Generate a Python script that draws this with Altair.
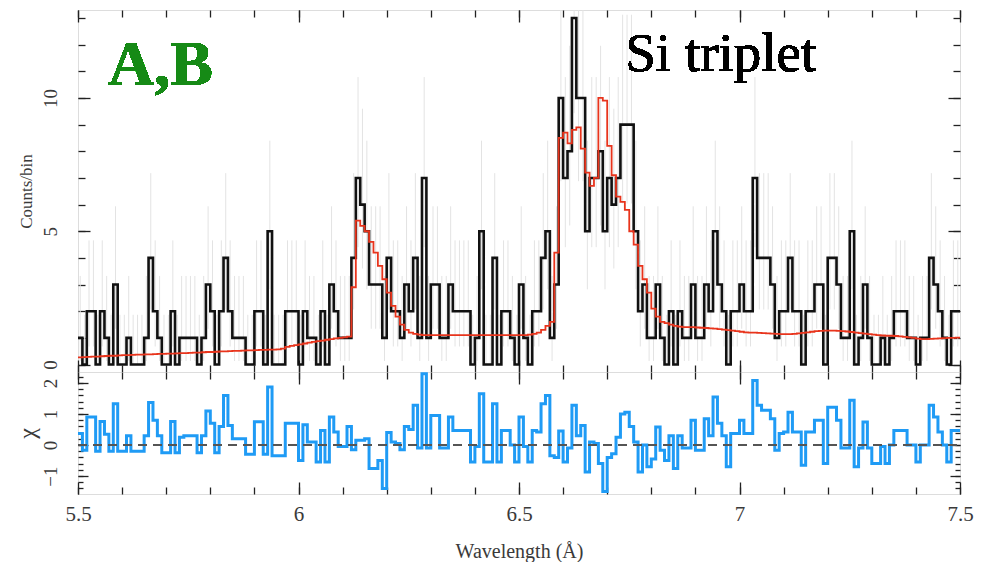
import altair as alt
import numpy as np
import pandas as pd

# ---------------- data ----------------
counts = [1,0,2,2,0,2,1,0,3,0,
          0,1,0,0,0,1,4,2,1,0,
          0,2,0,1,1,1,1,0,1,3,
          2,0,2,4,2,1,1,1,0,0,
          2,2,0,5,0,0,0,2,2,2,
          0,2,1,1,0,2,0,3,2,1,
          1,1,4,7,6,5,3,3,3,1,
          4,2,2,1,3,2,4,1,7,1,
          3,3,1,1,3,2,2,2,2,0,
          1,5,0,0,4,0,2,2,1,0,
          3,1,0,2,2,4,5,1,3,10,
          7,8,13,10,10,5,7,7,8,5,
          7,6,7,9,9,9,5,2,3,1,
          1,3,1,0,2,0,2,1,1,3,
          1,1,3,2,5,3,2,0,2,2,
          3,2,2,7,4,4,4,3,1,2,
          2,4,2,2,0,2,2,3,3,0,
          4,4,3,1,1,5,0,1,3,1,
          0,0,1,0,1,2,2,2,1,1,
          0,1,1,4,3,2,1,0,2,2]

model = [0.27,0.28,0.29,0.30,0.30,0.31,0.32,0.33,0.33,0.34,
         0.35,0.35,0.36,0.37,0.37,0.38,0.38,0.39,0.40,0.40,
         0.41,0.41,0.42,0.43,0.43,0.44,0.45,0.45,0.46,0.47,
         0.47,0.48,0.49,0.49,0.50,0.51,0.51,0.52,0.53,0.53,
         0.54,0.55,0.55,0.56,0.56,0.57,0.60,0.66,0.70,0.73,
         0.76,0.79,0.82,0.85,0.88,0.90,0.93,0.95,0.98,1.00,
         1.02,1.05,2.90,5.40,5.20,5.00,4.60,4.20,3.70,3.20,
         2.70,2.20,1.80,1.50,1.30,1.20,1.15,1.12,1.10,1.10,
         1.10,1.10,1.10,1.10,1.10,1.10,1.10,1.10,1.10,1.10,
         1.10,1.10,1.10,1.10,1.10,1.10,1.10,1.10,1.10,1.10,
         1.10,1.10,1.12,1.15,1.20,1.30,1.45,1.60,4.20,8.50,
         8.70,8.30,8.80,8.90,8.10,7.20,6.70,7.00,10.0,9.90,
         8.20,7.10,6.30,6.10,5.80,5.00,4.50,3.70,3.20,2.70,
         2.10,1.80,1.60,1.55,1.50,1.45,1.42,1.40,1.40,1.40,
         1.39,1.38,1.37,1.36,1.35,1.33,1.31,1.29,1.27,1.25,
         1.23,1.21,1.20,1.20,1.19,1.18,1.17,1.16,1.15,1.14,
         1.14,1.14,1.15,1.17,1.19,1.21,1.23,1.25,1.26,1.27,
         1.27,1.27,1.26,1.25,1.24,1.22,1.20,1.18,1.16,1.14,
         1.12,1.10,1.09,1.08,1.08,1.07,1.06,1.04,1.02,1.00,
         0.97,0.95,0.95,0.96,0.97,0.98,0.99,1.00,1.00,1.01]

chi = [0.37,-0.17,0.9,0.9,-0.2,0.76,0.35,-0.2,1.33,-0.2,
       -0.2,0.3,-0.2,-0.2,-0.2,0.3,1.37,0.8,0.3,-0.25,
       -0.25,0.76,-0.25,0.25,0.3,0.3,0.3,-0.25,0.3,1.1,
       0.7,-0.25,0.6,1.6,0.63,0.2,0.2,0.2,-0.3,-0.3,
       0.75,0.75,-0.3,1.87,-0.35,-0.35,-0.35,0.7,0.7,0.7,
       -0.5,0.65,0.1,0.1,-0.55,0.47,-0.55,0.9,0.42,-0.05,
       -0.05,0.6,-0.15,0.15,0.15,0.2,-0.76,-0.76,-0.5,-1.4,
       0.4,0.1,0.05,-0.15,0.6,0.5,1.28,-0.1,2.3,-0.1,
       0.95,0.95,-0.1,-0.1,0.9,0.47,0.47,0.47,0.47,-0.55,
       -0.05,1.65,-0.55,-0.55,1.33,-0.55,0.47,0.47,0.0,-0.55,
       0.9,-0.05,-0.55,0.47,0.42,1.33,1.6,-0.35,-0.4,0.45,
       -0.55,-0.1,1.28,0.3,0.63,-0.87,0.1,0.05,-0.6,-1.5,
       -0.4,-0.28,0.25,1.0,1.06,0.6,0.1,-0.87,0.0,-0.7,
       -0.45,0.58,-0.17,-0.5,0.3,-0.76,0.3,-0.1,-0.1,0.8,
       -0.17,-0.17,0.85,0.3,1.55,0.7,0.3,-0.7,0.37,0.37,
       0.8,0.37,0.37,2.08,1.28,1.12,1.12,0.85,-0.17,0.37,
       0.42,1.06,0.42,0.42,-0.65,0.42,0.42,0.8,0.8,-0.6,
       1.22,1.22,0.8,-0.1,-0.1,1.44,-0.7,-0.1,0.74,-0.1,
       -0.6,-0.6,-0.05,-0.6,0.0,0.47,0.47,0.47,0.0,0.0,
       -0.55,0.0,0.0,1.28,0.9,0.42,0.0,-0.55,0.47,0.47]

# tick positions / labels
x_minor = [5.5,5.6,5.7,5.8,5.9,6.0,6.1,6.2,6.3,6.4,6.5,6.6,6.7,6.8,6.9,7.0,7.1,7.2,7.3,7.4,7.5]
x_major = [5.5,6.0,6.5,7.0,7.5]
cnt_minor = [0,1,2,3,4,5,6,7,8,9,10,11,12,13]
cnt_major = [0,5,10]
chi_minor = [-1.4,-1.2,-1.0,-0.8,-0.6,-0.4,-0.2,0.0,0.2,0.4,0.6,0.8,1.0,1.2,1.4,1.6,1.8,2.0,2.2]
chi_major = [-1,0,1,2]

# ---------------- tables ----------------
n = len(counts)
edges = np.round(5.5 + 0.01 * np.arange(n + 1), 3)
step_df = pd.DataFrame({
    "wl": edges,
    "counts": counts + [counts[-1]],
    "model": model + [model[-1]],
    "chi": chi + [chi[-1]],
})
err_df = pd.DataFrame({"wl": np.round(edges[:-1] + 0.005, 4), "counts": counts})

# ---------------- styling helpers ----------------
FONT = "Liberation Serif"
TXT = "#3a3a3a"
xs = alt.Scale(domain=[5.5, 7.5], nice=False, zero=False)
ys1 = alt.Scale(domain=[-0.28, 13.3], nice=False, zero=False)
ys2 = alt.Scale(domain=[-1.58, 2.355], nice=False, zero=False)


def tick_axis(orient, values, size):
    return alt.Axis(orient=orient, values=values, tickSize=size, offset=-size,
                    domain=False, grid=False, labels=False, ticks=True,
                    tickColor="#222", tickWidth=1.3, title=None)


W = 882
H1 = 362
H2 = 122

# ---------------- top panel ----------------
err = alt.Chart(err_df).transform_calculate(
    hi="datum.counts + 1 + sqrt(datum.counts + 0.75)",
    lo="datum.counts > 0 ? datum.counts - sqrt(datum.counts - 0.25) : 0",
).mark_rule(color="#e3e3e3", strokeWidth=1, clip=True).encode(
    x=alt.X("wl:Q", scale=xs, axis=tick_axis("top", x_minor, 7)),
    y=alt.Y("lo:Q", scale=ys1, axis=tick_axis("right", cnt_minor, 7)),
    y2="hi:Q",
)

hist = alt.Chart(step_df).mark_line(interpolate="step-after", color="#111", strokeWidth=2.6).encode(
    x=alt.X("wl:Q", scale=xs, axis=tick_axis("bottom", x_minor, 7)),
    y=alt.Y("counts:Q", scale=ys1, axis=tick_axis("left", cnt_minor, 7)),
)

model_line = alt.Chart(step_df).mark_line(interpolate="step-after", color="#e8341c", strokeWidth=1.8).encode(
    x=alt.X("wl:Q", scale=xs, axis=tick_axis("bottom", x_major, 12)),
    y=alt.Y("model:Q", scale=ys1, axis=alt.Axis(
        orient="left", values=cnt_major, tickSize=12, offset=-12, domain=False, grid=False,
        tickColor="#222", tickWidth=1.3, labelAngle=270, labelAlign="center",
        labelBaseline="bottom", labelPadding=18, labelFontSize=19, labelFont=FONT,
        labelColor=TXT, title="Counts/bin", titleFont=FONT, titleFontSize=17,
        titleFontWeight="normal", titleColor=TXT, titlePadding=6)),
)

text_ab = alt.Chart(err_df).mark_text(
    text="A,B", font=FONT, fontSize=64, fontWeight="bold", color="#168a16",
    align="left", baseline="alphabetic").encode(
    x=alt.XDatum(5.568, scale=xs, axis=tick_axis("top", x_major, 12)),
    y=alt.YDatum(10.5, scale=ys1, axis=tick_axis("right", cnt_major, 12)),
)

text_si = alt.Chart(err_df).mark_text(
    text="Si triplet", font=FONT, fontSize=55, color="#000",
    align="left", baseline="alphabetic").encode(
    x=alt.XDatum(6.741, scale=xs, axis=None),
    y=alt.YDatum(11.0, scale=ys1, axis=None),
)

top = alt.layer(err, hist, model_line, text_ab, text_si).resolve_axis(
    x="independent", y="independent").properties(width=W, height=H1)

# ---------------- bottom panel ----------------
chi_line = alt.Chart(step_df).mark_line(interpolate="step-after", color="#1f9bf5", strokeWidth=3).encode(
    x=alt.X("wl:Q", scale=xs, axis=tick_axis("bottom", x_minor, 7)),
    y=alt.Y("chi:Q", scale=ys2, axis=tick_axis("left", chi_minor, 5)),
)

chi_major_layer = alt.Chart(step_df).mark_line(interpolate="step-after", strokeOpacity=0).encode(
    x=alt.X("wl:Q", scale=xs, axis=alt.Axis(
        orient="bottom", values=x_major, tickSize=12, offset=-12, domain=False, grid=False,
        tickColor="#222", tickWidth=1.3, labelPadding=9, labelFontSize=21, labelFont=FONT,
        labelColor=TXT, labelFlush=False, format="~g",
        title="Wavelength (Å)", titleFont=FONT, titleFontSize=20,
        titleFontWeight="normal", titleColor=TXT, titlePadding=17)),
    y=alt.Y("chi:Q", scale=ys2, axis=alt.Axis(
        orient="left", values=chi_major, tickSize=10, offset=-10, domain=False, grid=False,
        tickColor="#222", tickWidth=1.3, labelAngle=270, labelAlign="center",
        labelBaseline="bottom", labelPadding=18, labelFontSize=19, labelFont=FONT,
        labelColor=TXT, title="χ", titleFont=FONT, titleFontSize=24,
        titleFontWeight="normal", titleColor=TXT, titlePadding=2)),
)

chi_top_layer = alt.Chart(step_df).mark_line(interpolate="step-after", strokeOpacity=0).encode(
    x=alt.X("wl:Q", scale=xs, axis=tick_axis("top", x_major, 12)),
    y=alt.Y("chi:Q", scale=ys2, axis=tick_axis("right", chi_major, 10)),
)

zero = alt.Chart(err_df).mark_rule(color="#555", strokeDash=[9, 6], strokeWidth=1.6).encode(
    x=alt.XDatum(5.5, scale=xs, axis=tick_axis("top", x_minor, 7)),
    x2=alt.X2Datum(7.5),
    y=alt.YDatum(0, scale=ys2, axis=tick_axis("right", chi_minor, 5)),
)

bottom = alt.layer(chi_line, chi_major_layer, chi_top_layer, zero).resolve_axis(
    x="independent", y="independent").properties(width=W, height=H2)

chart = alt.vconcat(top, bottom, spacing=0, bounds="flush").properties(
    padding={"left": 6, "top": 0, "right": 0, "bottom": 0}
).configure_view(stroke="#222", strokeWidth=1.6).configure(background="white")

chart.save("out.html", embed_options={"renderer": "svg", "actions": False})
